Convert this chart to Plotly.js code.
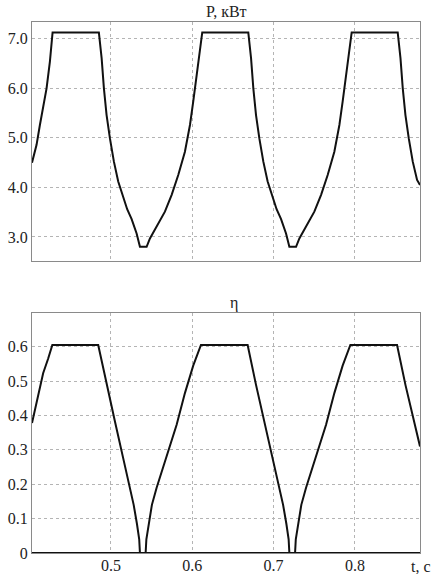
<!DOCTYPE html>
<html>
<head>
<meta charset="utf-8">
<script src="https://cdn.plot.ly/plotly-3.0.1.min.js"></script>
<style>
  html, body { margin: 0; padding: 0; background: #fff; }
  #graph-container { width: 435px; height: 574px; }
</style>
</head>
<body>
<div id="graph-container"></div>
<script>
// Power P (kW)
var tP = [0.4030, 0.4086, 0.4127, 0.4167, 0.4209, 0.4250, 0.4283,
          0.4852, 0.4886, 0.4914, 0.4947, 0.4988, 0.5037, 0.5090, 0.5151, 0.5200, 0.5255, 0.5316, 0.5357,
          0.5439, 0.5480, 0.5562, 0.5664, 0.5747, 0.5828, 0.5910, 0.5972, 0.6012, 0.6054, 0.6095, 0.6123,
          0.6689, 0.6723, 0.6751, 0.6784, 0.6825, 0.6874, 0.6927, 0.6988, 0.7037, 0.7092, 0.7153, 0.7194,
          0.7276, 0.7317, 0.7399, 0.7501, 0.7584, 0.7665, 0.7747, 0.7809, 0.7849, 0.7891, 0.7932, 0.7960,
          0.8526, 0.8560, 0.8588, 0.8621, 0.8662, 0.8711, 0.8764, 0.8800];
var P = [4.50, 4.86, 5.26, 5.60, 6.00, 6.54, 7.13,
         7.13, 6.61, 6.00, 5.46, 4.99, 4.52, 4.12, 3.78, 3.56, 3.36, 3.07, 2.80,
         2.80, 2.97, 3.21, 3.51, 3.85, 4.25, 4.72, 5.26, 5.73, 6.27, 6.81, 7.13,
         7.13, 6.61, 6.00, 5.46, 4.99, 4.52, 4.12, 3.78, 3.56, 3.36, 3.07, 2.80,
         2.80, 2.97, 3.21, 3.51, 3.85, 4.25, 4.72, 5.26, 5.73, 6.27, 6.81, 7.13,
         7.13, 6.61, 6.00, 5.46, 4.99, 4.52, 4.15, 4.05];

// Efficiency eta
var tEta = [0.4030, 0.4086, 0.4167, 0.4228, 0.4280,
            0.4844, 0.4947, 0.5049, 0.5151, 0.5220, 0.5280, 0.5320, 0.5348, 0.5357,
            0.5427, 0.5436, 0.5464, 0.5504, 0.5562, 0.5685, 0.5808, 0.5910, 0.6012, 0.6107,
            0.6681, 0.6784, 0.6886, 0.6988, 0.7057, 0.7117, 0.7157, 0.7185, 0.7194,
            0.7264, 0.7273, 0.7301, 0.7341, 0.7399, 0.7522, 0.7645, 0.7747, 0.7849, 0.7944,
            0.8518, 0.8621, 0.8723, 0.8800];
var eta = [0.378, 0.440, 0.523, 0.565, 0.605,
           0.605, 0.489, 0.383, 0.276, 0.206, 0.140, 0.085, 0.040, 0,
           0, 0.040, 0.085, 0.140, 0.190, 0.280, 0.373, 0.465, 0.545, 0.605,
           0.605, 0.489, 0.383, 0.276, 0.206, 0.140, 0.085, 0.040, 0,
           0, 0.040, 0.085, 0.140, 0.190, 0.280, 0.373, 0.465, 0.545, 0.605,
           0.605, 0.489, 0.383, 0.310];

// Tick labels
var xTicks = [0.5, 0.6, 0.7, 0.8];
var xTickText = ['0.5', '0.6', '0.7', '0.8'];
var pTicks = [3, 4, 5, 6, 7];
var pTickText = ['3.0', '4.0', '5.0', '6.0', '7.0'];
var etaTicks = [0, 0.1, 0.2, 0.3, 0.4, 0.5, 0.6];
var etaTickText = ['0', '0.1', '0.2', '0.3', '0.4', '0.5', '0.6'];

var font = {family: 'Liberation Serif', size: 16, color: '#222'};

var common = {
    showline: true,
    mirror: true,
    linecolor: '#8a8a8a',
    linewidth: 1,
    showgrid: true,
    gridcolor: '#b4b4b4',
    griddash: 'dot',
    gridwidth: 1,
    zeroline: false,
    ticks: '',
    tickfont: font
};

var data = [
    {
        x: tP, y: P,
        xaxis: 'x', yaxis: 'y',
        type: 'scatter', mode: 'lines',
        line: {color: '#111', width: 2},
        showlegend: false
    },
    {
        x: tEta, y: eta,
        xaxis: 'x2', yaxis: 'y2',
        type: 'scatter', mode: 'lines',
        line: {color: '#111', width: 2},
        showlegend: false
    }
];

var layout = {
    width: 435,
    height: 574,
    margin: {l: 32, r: 15, t: 22, b: 21},
    paper_bgcolor: '#fff',
    plot_bgcolor: '#fff',
    font: font,
    xaxis: Object.assign({}, common, {
        domain: [0, 1], anchor: 'y', range: [0.403, 0.88],
        tickvals: xTicks, showticklabels: false
    }),
    yaxis: Object.assign({}, common, {
        domain: [0.55, 1], anchor: 'x', range: [2.515, 7.34],
        tickvals: pTicks, ticktext: pTickText
    }),
    xaxis2: Object.assign({}, common, {
        domain: [0, 1], anchor: 'y2', range: [0.403, 0.88],
        tickvals: xTicks, ticktext: xTickText, ticklabelstandoff: -2
    }),
    yaxis2: Object.assign({}, common, {
        domain: [0, 0.452], anchor: 'x2', range: [0, 0.698],
        tickvals: etaTicks, ticktext: etaTickText
    }),
    shapes: [
        {type: 'line', xref: 'x2 domain', yref: 'y2', x0: 0, x1: 1, y0: 0, y1: 0,
         line: {color: '#111', width: 2}}
    ],
    annotations: [
        {text: 'P, кВт', xref: 'paper', yref: 'paper', x: 0.5, y: 1.019,
         xanchor: 'center', yanchor: 'middle', showarrow: false, font: font},
        {text: 'η', xref: 'paper', yref: 'paper', x: 0.52, y: 0.471,
         xanchor: 'center', yanchor: 'middle', showarrow: false, font: font},
        {text: 't, c', xref: 'paper', yref: 'paper', x: 1.033, y: -0.026,
         xanchor: 'right', yanchor: 'middle', showarrow: false, font: font}
    ]
};

Plotly.newPlot('graph-container', data, layout, {staticPlot: true, displayModeBar: false});
</script>
</body>
</html>
